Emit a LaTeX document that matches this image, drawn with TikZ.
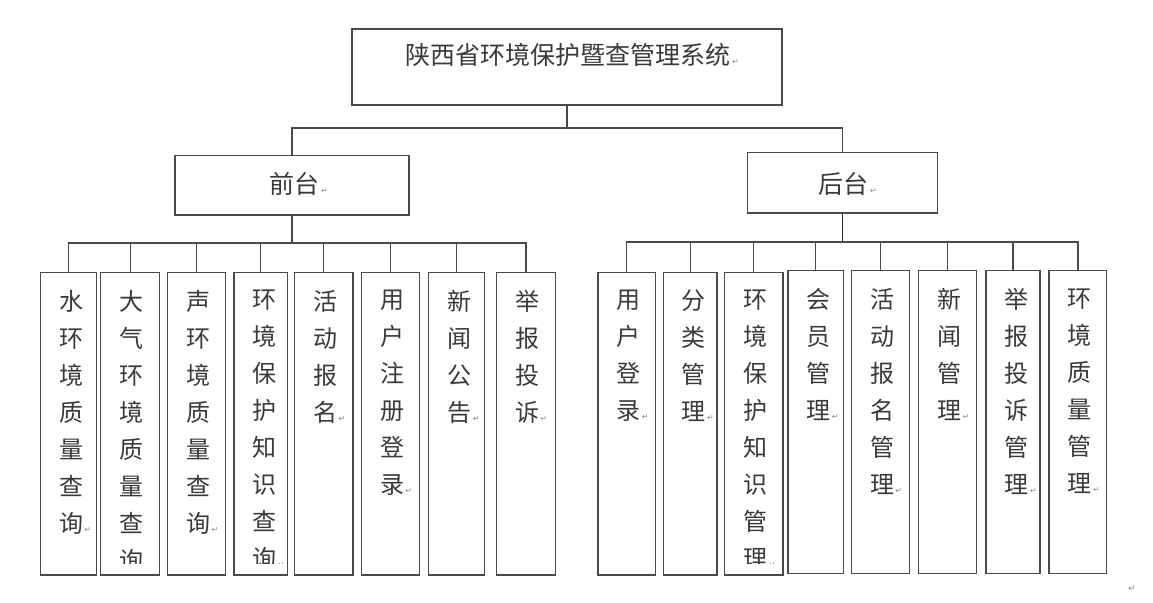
\documentclass[tikz,border=0pt]{standalone}
\usepackage{fontspec}
\newfontfamily\cjk{Noto Sans CJK SC}
\newfontfamily\markfont{DejaVu Sans}
\usetikzlibrary{calc}
\definecolor{linegray}{HTML}{4A4A4A}
\definecolor{textgray}{HTML}{3A3A3A}
\definecolor{markgray}{HTML}{8A8A8A}
\newcommand{\pmark}{{\markfont\fontsize{8}{8}\selectfont\color{markgray}\,↵}}
\tikzset{
  boxshape/.style={draw=linegray, line width=1.3pt, rectangle, inner sep=0pt, fill=white},
  conn/.style={draw=linegray, line width=1.3pt},
  boldconn/.style={draw=black!85, line width=1.8pt},
  lt/.style={text=textgray, inner sep=0pt, align=left, font=\cjk\fontsize{24}{37}\selectfont},
  ht/.style={text=textgray, inner sep=0pt, font=\cjk\fontsize{25}{30}\selectfont},
}
\newcommand{\leafnode}[6]{%
  \node[boxshape, minimum width={#3-#2}, minimum height={#5-#4}] (#1) at ({(#2+#3)/2},{(#4+#5)/2}) {};
  \begin{scope}
    \clip (#2,#4) rectangle (#3,{#5-12});
    \node[lt, anchor=north west] (#1t) at ({#2+18.5},{#4+17.7}) {#6};
  \end{scope}}
\begin{document}
\begin{tikzpicture}[x=1pt,y=-1pt]
\useasboundingbox[fill=white] (0,0) rectangle (1153,602);

% main boxes
\node[boxshape, minimum width=430, minimum height=76] (top) at (567,67) {};
\node[ht, anchor=base west] (toptext) at (405.5,65) {陕西省环境保护暨查管理系统\pmark};
\node[boxshape, minimum width=234, minimum height=59.5] (front) at (292,185.25) {};
\node[ht, anchor=base west] (fronttext) at (269.5,193.3) {前台\pmark};
\node[boxshape, minimum width=190, minimum height=60.5] (back) at (842.5,182.75) {};
\node[ht, anchor=base west] (backtext) at (818.5,193.3) {后台\pmark};

% junctions
\coordinate (j0) at (567,128);
\coordinate (jf) at (292,243);
\coordinate (jb) at (842.5,242);
\draw[conn] (top.south) -- (j0);
\draw[conn] (front.north) |- (j0) -| (back.north);
\draw[conn] (front.south) -- (jf);

% left leaves
\leafnode{l1}{40.3}{96.5}{272.3}{575}{水\\环\\境\\质\\量\\查\\询\pmark}
\leafnode{l2}{100.6}{159.8}{272.3}{575}{大\\气\\环\\境\\质\\量\\查\\询\pmark}
\leafnode{l3}{167.7}{225.6}{272.3}{575}{声\\环\\境\\质\\量\\查\\询\pmark}
\leafnode{l4}{233.9}{287.6}{272.3}{575}{环\\境\\保\\护\\知\\识\\查\\询\pmark}
\leafnode{l5}{294.5}{353}{272.3}{575}{活\\动\\报\\名\pmark}
\leafnode{l6}{361.3}{419.8}{272.3}{575}{用\\户\\注\\册\\登\\录\pmark}
\leafnode{l7}{428.8}{484.5}{272.3}{575}{新\\闻\\公\\告\pmark}
\leafnode{l8}{496.3}{555.5}{272.3}{575}{举\\报\\投\\诉\pmark}

% right leaves
\leafnode{r1}{597.9}{655.7}{272.3}{575}{用\\户\\登\\录\pmark}
\leafnode{r2}{663.2}{717.1}{272.3}{575}{分\\类\\管\\理\pmark}
\leafnode{r3}{724.6}{782.9}{272.3}{575}{环\\境\\保\\护\\知\\识\\管\\理\pmark}
\leafnode{r4}{787.9}{843.2}{270.7}{573.3}{会\\员\\管\\理\pmark}
\leafnode{r5}{851.4}{909.6}{270.7}{573.3}{活\\动\\报\\名\\管\\理\pmark}
\leafnode{r6}{918.6}{976.4}{270.7}{573.3}{新\\闻\\管\\理\pmark}
\leafnode{r7}{986}{1040}{270.7}{573.3}{举\\报\\投\\诉\\管\\理\pmark}
\leafnode{r8}{1049}{1106.8}{270.7}{573.3}{环\\境\\质\\量\\管\\理\pmark}

% connectors to leaves
\foreach \n in {l1,l2,l3,l4,l5,l6,l7,l8} {\draw[conn] (jf) -| (\n.north);}
\foreach \n in {r1,r2,r3,r4,r5,r6,r7,r8} {\draw[conn] (jb) -| (\n.north);}
\draw[boldconn] (back.south) -- (jb);

% paragraph mark
\node[inner sep=0pt, font=\markfont\fontsize{9}{9}\selectfont, text=markgray] (pm) at (1132,589) {↵};
\end{tikzpicture}
\end{document}
